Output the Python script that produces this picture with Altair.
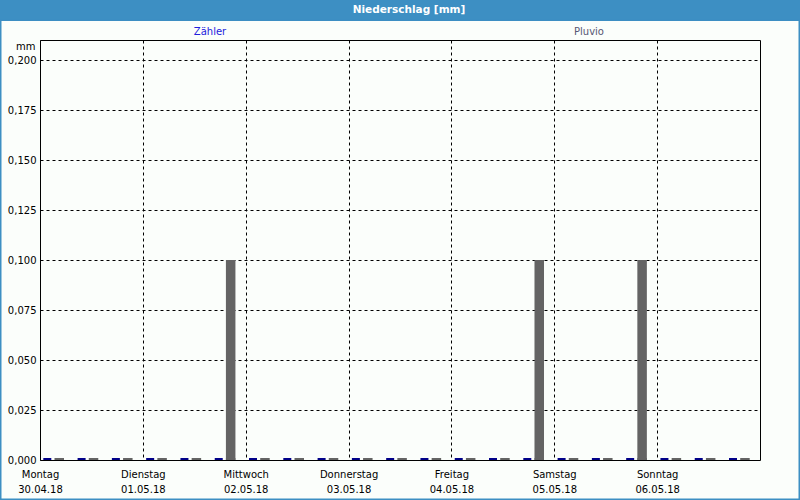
import json
import altair as alt
import pandas as pd

# ---------------- data ----------------
series_names = ["Zähler", "Pluvio"]
day_names = ["Montag", "Dienstag", "Mittwoch", "Donnerstag", "Freitag", "Samstag", "Sonntag"]
day_dates = ["30.04.18", "01.05.18", "02.05.18", "03.05.18", "04.05.18", "05.05.18", "06.05.18"]
day_tick_hours = [0, 24, 48, 72, 96, 120, 144]
interval_start_h = [0, 8, 16, 24, 32, 40, 48, 56, 64, 72, 80, 88, 96, 104, 112, 120,
                    128, 136, 144, 152, 160]
zaehler_mm = [0.0, 0.0, 0.0, 0.0, 0.0, 0.0, 0.0, 0.0, 0.0, 0.0, 0.0, 0.0, 0.0, 0.0,
              0.0, 0.0, 0.0, 0.0, 0.0, 0.0, 0.0]
pluvio_mm = [0.0, 0.0, 0.0, 0.0, 0.0, 0.1, 0.0, 0.0, 0.0, 0.0, 0.0, 0.0, 0.0, 0.0,
             0.1, 0.0, 0.0, 0.1, 0.0, 0.0, 0.0]
y_ticks = [0.0, 0.025, 0.05, 0.075, 0.1, 0.125, 0.15, 0.175, 0.2]

# ---------------- styling ----------------
FONT = "DejaVu Sans"
bar_colors = ["#000088", "#646464"]
label_colors = ["#2020DC", "#585874"]
# bar placement inside each 8-hour slot (hours from slot start)
bar_span = {"Zähler": (0.77, 2.64), "Pluvio": (3.38, 5.6)}

rows = []
for s, vals in zip(series_names, [zaehler_mm, pluvio_mm]):
    a, b = bar_span[s]
    for t, v in zip(interval_start_h, vals):
        rows.append({"series": s, "x0": t + a, "x1": t + b, "value": v})
df = pd.DataFrame(rows)

labels_js = json.dumps([[n, d] for n, d in zip(day_names, day_dates)], ensure_ascii=False)

x_scale = alt.Scale(domain=[0, 168], nice=False, zero=False)
y_scale = alt.Scale(domain=[0, 0.21], nice=False)
color = alt.Color("series:N", scale=alt.Scale(domain=series_names, range=bar_colors), legend=None)

grid_dash = [3, 3]

bars = alt.Chart(df).mark_rect().encode(
    x=alt.X("x0:Q", scale=x_scale,
            axis=alt.Axis(values=day_tick_hours, title=None, grid=True, gridColor="black",
                          gridDash=grid_dash, gridOpacity=1, ticks=False, domain=False,
                          labelExpr=f"{labels_js}[round(datum.value/24)]",
                          labelFont=FONT, labelFontSize=10, labelColor="black",
                          labelBaseline="top", labelPadding=9, labelLineHeight=15,
                          labelAlign="center", labelFlush=False, labelOverlap=False)),
    x2="x1:Q",
    y=alt.Y("value:Q", scale=y_scale,
            axis=alt.Axis(values=y_ticks, title="mm", titleAngle=0, titleAlign="right",
                          titleBaseline="middle", titleX=-5, titleY=6, titleFont=FONT,
                          titleFontSize=10, titleFontWeight="normal", titleColor="black",
                          grid=True, gridColor="black", gridDash=grid_dash, gridOpacity=1,
                          ticks=False, domain=False,
                          labelExpr="replace(format(datum.value, '.3f'), '.', ',')",
                          labelFont=FONT, labelFontSize=10, labelColor="black",
                          labelPadding=4, labelOverlap=False, labelFlush=False)),
    y2=alt.datum(0),
    color=color,
)

zero_marks = alt.Chart(df).mark_rect().encode(
    x=alt.X("x0:Q", scale=x_scale),
    x2="x1:Q",
    y=alt.value(418),
    y2=alt.value(420),
    color=color,
)

one = pd.DataFrame({"k": [0]})

band = alt.Chart(one).mark_rect(color="#3D8FC3").encode(
    x=alt.value(-40), x2=alt.value(760), y=alt.value(-40), y2=alt.value(-19)
)
border = alt.Chart(one).mark_rect(filled=False, stroke="#3D8FC3", strokeWidth=1.5).encode(
    x=alt.value(-39.25), x2=alt.value(759.25), y=alt.value(-20), y2=alt.value(459.25)
)
title_txt = alt.Chart(one).mark_text(
    text="Niederschlag [mm]", font=FONT, fontSize=10.5, fontWeight="bold", color="white",
    align="center", baseline="middle"
).encode(x=alt.value(369), y=alt.value(-30))

lab_df = pd.DataFrame({"series": series_names})
series_labels = []
for s, c, xpos in zip(series_names, label_colors, [170, 549]):
    series_labels.append(
        alt.Chart(one).mark_text(text=s, font=FONT, fontSize=10, color=c,
                                 align="center", baseline="middle")
        .encode(x=alt.value(xpos), y=alt.value(-8))
    )

chart = alt.layer(bars, zero_marks, band, border, title_txt, *series_labels).properties(
    width=720, height=420,
    autosize=alt.AutoSizeParams(type="none"),
    padding={"left": 40, "right": 40, "top": 40, "bottom": 40},
    background="#FBFEFB",
).configure_view(stroke="black", strokeWidth=1, fill=None)

chart.save("out.html", embed_options={"renderer": "svg", "actions": False})
